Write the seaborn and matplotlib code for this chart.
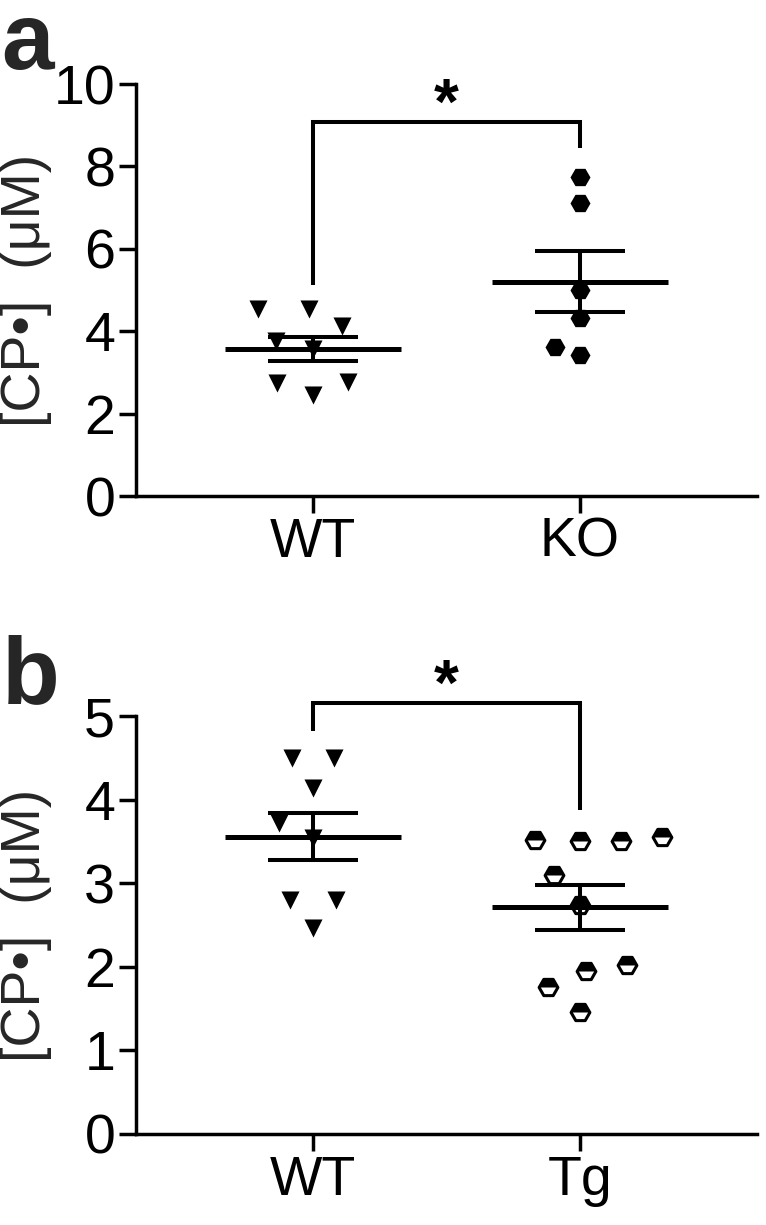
import matplotlib
matplotlib.use("Agg")
import matplotlib.pyplot as plt
from matplotlib.markers import MarkerStyle
from matplotlib.transforms import Affine2D
import seaborn as sns
import numpy as np
import pandas as pd

# ==========================
# Data ([CP.] in uM)
# ==========================
groups_a = ["WT", "KO"]
groups_b = ["WT", "Tg"]

wt_a = [4.53, 4.53, 4.13, 3.76, 3.58, 2.77, 2.75, 2.45]
ko = [7.75, 7.12, 5.00, 4.31, 3.62, 3.42]

wt_b = [4.50, 4.50, 4.14, 3.72, 3.54, 2.80, 2.80, 2.46]
tg = [3.55, 3.52, 3.50, 3.50, 3.10, 2.74, 2.02, 1.95, 1.76, 1.46]

yticks_a = [0, 2, 4, 6, 8, 10]
yticks_b = [0, 1, 2, 3, 4, 5]

# significance brackets: left foot, top, right foot
bracket_a = [5.12, 9.08, 8.45]
bracket_b = [4.82, 5.15, 3.88]
star_a = 9.77
star_b = 5.49

# ==========================
# Style
# ==========================
sns.set_theme(style="ticks")
plt.rcParams["font.family"] = ["Liberation Sans", "DejaVu Sans"]

FS = 40
LW = 2.5


def marker(shape, size, spacing, fill="full"):
    # marker drawn at `size` pt while the swarm keeps `spacing` pt between points
    return MarkerStyle(shape, fillstyle=fill,
                       transform=Affine2D().scale(size / spacing))


fig = plt.figure(figsize=(7.66, 12.25), dpi=100)
ax_a = fig.add_axes([0.1775, 0.5951, 0.8107, 0.3363])
ax_b = fig.add_axes([0.1775, 0.0743, 0.8107, 0.3412])


def mean_sem(ax, pos, values):
    v = np.array(values)
    m = v.mean()
    s = v.std(ddof=1) / np.sqrt(len(v))
    ax.hlines(m, pos - 0.33, pos + 0.33, color="black", lw=3.6, zorder=5)
    ax.hlines([m - s, m + s], pos - 0.167, pos + 0.167, color="black", lw=2.9, zorder=5)
    ax.vlines(pos, m - s, m + s, color="black", lw=2.9, zorder=5)


def bracket(ax, b, star):
    ax.plot([0, 0, 1, 1], [b[0], b[1], b[1], b[2]], color="black", lw=2.9,
            solid_joinstyle="miter", solid_capstyle="butt", clip_on=False)
    ax.annotate("*", xy=(0.5, star), xytext=(0, -9.5), textcoords="offset points",
                ha="center", va="center", fontsize=46, fontweight="bold",
                color="black", annotation_clip=False)


def style_axis(ax, yticks, ylim):
    ax.set_ylim(*ylim)
    ax.set_yticks(yticks)
    ax.set_xlim(-0.663, 1.663)
    ax.set_xlabel("")
    ax.set_ylabel("[CP•]  (μM)", fontsize=FS)
    ax.yaxis.set_label_coords(-0.136, 0.5)
    sns.despine(ax=ax)
    for side in ["left", "bottom"]:
        ax.spines[side].set_linewidth(LW)
        ax.spines[side].set_color("black")
    ax.tick_params(axis="both", length=12, width=LW, labelsize=FS,
                   color="black", labelcolor="black", pad=3)


# Panel a
df_wt_a = pd.DataFrame({"group": "WT", "value": wt_a})
df_ko = pd.DataFrame({"group": "KO", "value": ko})
sns.swarmplot(data=df_wt_a, x="group", y="value", order=groups_a,
              marker=marker("v", 13, 26), size=26, color="black", linewidth=0, ax=ax_a)
sns.swarmplot(data=df_ko, x="group", y="value", order=groups_a,
              marker=marker("H", 14.4, 18), size=18, color="black", linewidth=0, ax=ax_a)
mean_sem(ax_a, 0, wt_a)
mean_sem(ax_a, 1, ko)
bracket(ax_a, bracket_a, star_a)
style_axis(ax_a, yticks_a, (0, 10))

# Panel b
df_wt_b = pd.DataFrame({"group": "WT", "value": wt_b})
df_tg = pd.DataFrame({"group": "Tg", "value": tg})
sns.swarmplot(data=df_wt_b, x="group", y="value", order=groups_b,
              marker=marker("v", 13, 26), size=26, color="black", linewidth=0, ax=ax_b)
sns.swarmplot(data=df_tg, x="group", y="value", order=groups_b,
              marker=marker("H", 13.5, 26), size=26, color="white",
              edgecolor="black", linewidth=2.2, ax=ax_b)
tg_points = ax_b.collections[-1]
mean_sem(ax_b, 0, wt_b)
mean_sem(ax_b, 1, tg)
bracket(ax_b, bracket_b, star_b)
style_axis(ax_b, yticks_b, (0, 5))

# half-filled look of the Tg hexagons, on the swarm positions
fig.canvas.draw()
xy = tg_points.get_offsets()
ax_b.scatter(xy[:, 0], xy[:, 1], marker=marker("H", 13.5, 26, fill="top"),
             s=26 ** 2, color="black", linewidth=0, zorder=4)

fig.text(0.002, 1.0, "a", fontsize=68, fontweight="bold", va="top", ha="left")
fig.text(0.002, 0.482, "b", fontsize=68, fontweight="bold", va="top", ha="left")

fig.savefig("out.png", dpi=100, facecolor="white")
